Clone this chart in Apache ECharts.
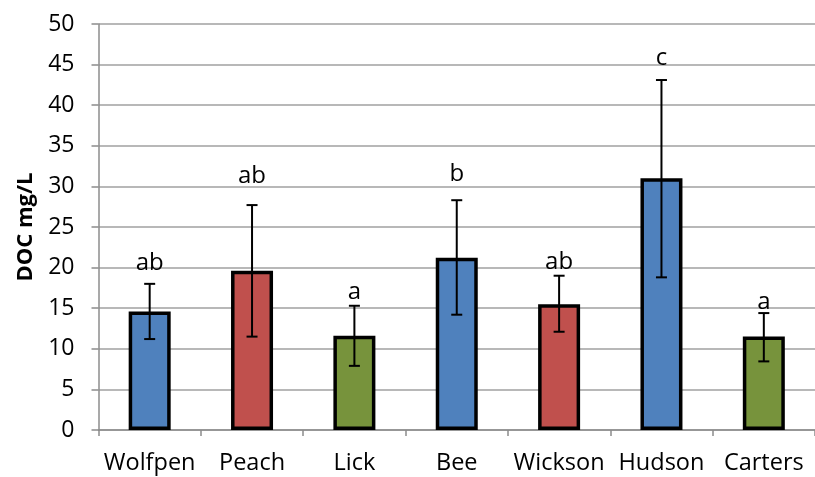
<!DOCTYPE html>
<html><head><meta charset="utf-8">
<script src="https://cdn.jsdelivr.net/npm/echarts@6/dist/echarts.min.js"></script>
<style>html,body{margin:0;padding:0;background:#fff}#c{width:815px;height:477px}</style>
</head><body><div id="c"></div>
<script>
const categories = ['Wolfpen','Peach','Lick','Bee','Wickson','Hudson','Carters'];
const means = [14.6, 19.6, 11.6, 21.2, 15.5, 31.0, 11.5];
const errLow = [11.2, 11.5, 7.9, 14.2, 12.1, 18.8, 8.45];
const errHigh = [18.0, 27.7, 15.3, 28.3, 19.0, 43.1, 14.4];
const letters = ['ab','ab','a','b','ab','c','a'];
const letterY = [20.6, 31.3, 17.0, 31.5, 20.7, 45.8, 15.8];
const barColors = ['#4F81BD','#C0504D','#77933C','#4F81BD','#C0504D','#4F81BD','#77933C'];
const yTicks = [0,5,10,15,20,25,30,35,40,45,50];

const font = 'Open Sans';
const chart = echarts.init(document.getElementById('c'));
chart.setOption({
  animation: false,
  grid: {left: 98.5, top: 24, bottom: 47, width: 725, containLabel: false},
  xAxis: {
    type: 'category', data: categories,
    axisLine: {lineStyle: {color: '#8c8c8c', width: 1.5}},
    axisTick: {show: true, alignWithLabel: false, length: 6, lineStyle: {color: '#8c8c8c', width: 1.5}},
    axisLabel: {interval: 0, color: '#000', fontFamily: font, fontSize: 23.5, margin: 21}
  },
  yAxis: {
    type: 'value', min: yTicks[0], max: yTicks[yTicks.length-1], interval: 5,
    name: 'DOC mg/L', nameLocation: 'middle', nameGap: 62,
    nameTextStyle: {color: '#000', fontFamily: font, fontSize: 22, fontWeight: 'bold'},
    axisLine: {show: true, lineStyle: {color: '#8c8c8c', width: 1.5}},
    axisTick: {show: true, length: 7, lineStyle: {color: '#8c8c8c', width: 1.5}},
    axisLabel: {color: '#000', fontFamily: font, fontSize: 23, margin: 24},
    splitLine: {lineStyle: {color: '#a0a0a0', width: 1.5}}
  },
  series: [
    {
      type: 'bar', barWidth: 42,
      data: means.map((v,i)=>({value: v, itemStyle: {color: barColors[i]}})),
      itemStyle: {borderColor: '#000', borderWidth: 3.5},
      z: 2
    },
    {
      type: 'custom', z: 5,
      data: categories.map((c,i)=>[i, errLow[i], errHigh[i]]),
      renderItem: function(params, api){
        const x = api.coord([api.value(0), api.value(1)])[0];
        const lo = api.coord([api.value(0), api.value(1)])[1];
        const hi = api.coord([api.value(0), api.value(2)])[1];
        const hw = 5.5;
        const st = {stroke: '#000', lineWidth: 2};
        return {type: 'group', children: [
          {type: 'line', shape: {x1: x, y1: lo, x2: x, y2: hi}, style: st},
          {type: 'line', shape: {x1: x-hw, y1: hi, x2: x+hw, y2: hi}, style: st},
          {type: 'line', shape: {x1: x-hw, y1: lo, x2: x+hw, y2: lo}, style: st}
        ]};
      }
    },
    {
      type: 'scatter', symbolSize: 0, z: 6, silent: true,
      itemStyle: {opacity: 1},
      data: letterY.map((v,i)=>[i, v]),
      label: {show: true, position: 'inside', formatter: p=>letters[p.dataIndex],
        color: '#000', fontFamily: font, fontSize: 24}
    }
  ]
});
</script></body></html>
